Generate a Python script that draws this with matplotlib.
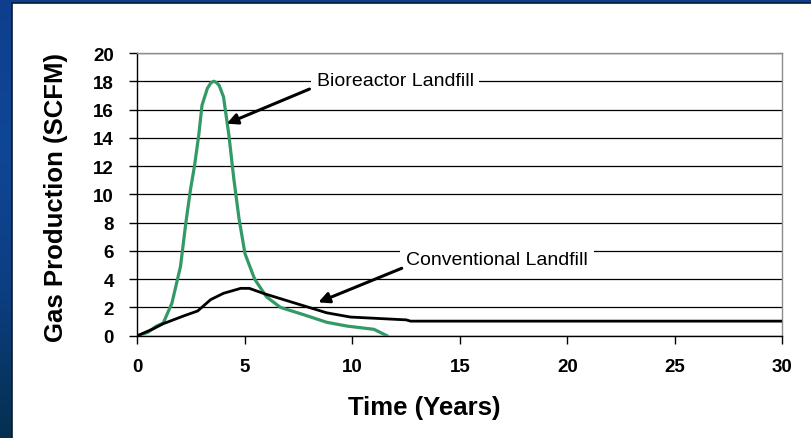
import numpy as np
import matplotlib
matplotlib.use("Agg")
import matplotlib.pyplot as plt
from matplotlib.patches import Rectangle

plt.rcParams["font.family"] = ["Liberation Sans", "DejaVu Sans"]

# ---------------------------------------------------------------------------
# Data
# ---------------------------------------------------------------------------
bio_years = [0, 0.5, 0.85, 1.2, 1.6, 2.0, 2.25, 2.47, 2.65, 2.85, 3.0, 3.25,
             3.42, 3.55, 3.68, 3.8, 4.0, 4.25, 4.48, 4.72, 5.0, 5.45, 6.0,
             6.65, 7.7, 8.8, 9.75, 11.0, 11.6]
bio_scfm = [0, 0.25, 0.65, 0.9, 2.3, 4.9, 8.0, 10.4, 12.0, 14.2, 16.3, 17.5,
            17.9, 18.0, 17.9, 17.7, 16.9, 14.2, 11.1, 8.3, 5.8, 4.0, 2.75,
            2.0, 1.5, 0.95, 0.68, 0.45, 0.0]

conv_years = [0, 0.75, 1.2, 2.15, 2.8, 3.4, 4.0, 4.8, 5.2, 5.9, 7.4, 8.8,
              9.9, 12.1, 12.5, 12.7, 30]
conv_scfm = [0, 0.5, 0.85, 1.4, 1.75, 2.55, 3.0, 3.35, 3.35, 2.97, 2.27,
             1.62, 1.32, 1.15, 1.12, 1.03, 1.03]

x_ticks = [0, 5, 10, 15, 20, 25, 30]
y_ticks = list(range(0, 21, 2))

# ---------------------------------------------------------------------------
# Figure with slide-like blue border
# ---------------------------------------------------------------------------
W, H = 812, 439
fig = plt.figure(figsize=(W / 100, H / 100), dpi=100)

bg = fig.add_axes([0, 0, 1, 1])
bg.set_axis_off()
stops = np.array([[14, 63, 142], [16, 70, 150], [12, 62, 130], [4, 48, 79]]) / 255
pos = np.linspace(0, 1, len(stops))
t = np.linspace(0, 1, 200)
grad = np.stack([np.interp(t, pos, stops[:, c]) for c in range(3)], axis=1)
img = np.repeat(grad[:, None, :], 10, axis=1)
bg.imshow(img, extent=[0, 1, 0, 1], aspect="auto", transform=bg.transAxes)
bg.add_patch(Rectangle((12 / W, -0.01), 1, 1 - 4 / H + 0.01,
                       transform=bg.transAxes, facecolor="white",
                       edgecolor="#0a1a30", linewidth=1.2))
bg.set_xlim(0, 1)
bg.set_ylim(0, 1)

ax = fig.add_axes([137.5 / W, 102.3 / H, 645 / W, 282.7 / H])
ax.set_facecolor("none")

ax.plot(bio_years, bio_scfm, color="#339966", linewidth=2.3, zorder=3)
ax.plot(conv_years, conv_scfm, color="black", linewidth=2.0, zorder=3)

ax.set_xlim(0, 30)
ax.set_ylim(0, 20)
ax.set_xticks(x_ticks)
ax.set_yticks(y_ticks)
ax.grid(True, axis="y", color="black", linewidth=0.9)

for side in ["left", "bottom"]:
    ax.spines[side].set_color("black")
    ax.spines[side].set_linewidth(1.0)
for side in ["top", "right"]:
    ax.spines[side].set_color("#8c8c8c")
    ax.spines[side].set_linewidth(1.0)

ax.tick_params(axis="both", direction="out", length=6, width=1, color="black",
               labelsize=13.5)
ax.tick_params(axis="y", pad=11)
ax.tick_params(axis="x", pad=10)
for lab in ax.get_xticklabels() + ax.get_yticklabels():
    lab.set_fontweight("bold")

ax.set_xlabel("Time (Years)", fontsize=18.5, fontweight="bold", va="center")
ax.xaxis.set_label_coords(0.444, -0.252)
ax.set_ylabel("Gas Production (SCFM)", fontsize=18.5, fontweight="bold",
              va="center")
ax.yaxis.set_label_coords(-0.1264, 0.494)

# ---------------------------------------------------------------------------
# Annotations
# ---------------------------------------------------------------------------
box = dict(boxstyle="square,pad=0.3", facecolor="white", edgecolor="none")
arrow = dict(arrowstyle="-|>", color="black", lw=2.2, mutation_scale=16,
             shrinkA=0, shrinkB=0)

ax.text(11.98, 18.03, "Bioreactor Landfill", fontsize=14, ha="center",
        va="center", bbox=box, zorder=4)
ax.annotate("", xy=(4.15, 15.0), xytext=(8.0, 17.45), arrowprops=arrow,
            zorder=5)

ax.text(16.72, 5.37, "Conventional Landfill", fontsize=14, ha="center",
        va="center", bbox=box, zorder=4)
ax.annotate("", xy=(8.41, 2.36), xytext=(12.29, 4.77), arrowprops=arrow,
            zorder=5)

plt.savefig("out.png", dpi=100)
